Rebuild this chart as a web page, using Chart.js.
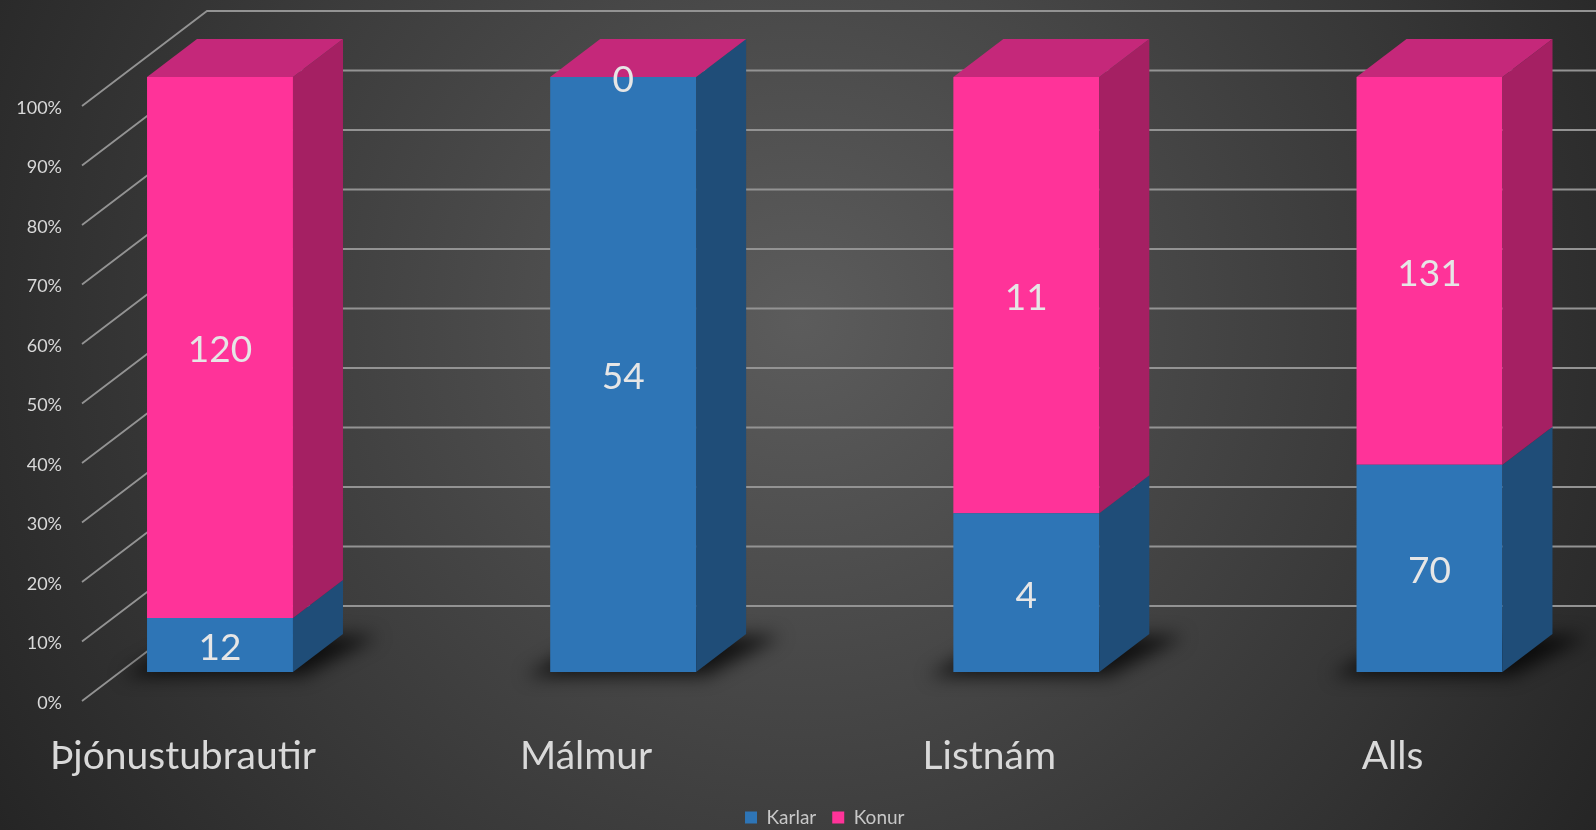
<!DOCTYPE html>
<html><head><meta charset="utf-8">
<script src="https://cdn.jsdelivr.net/npm/chart.js@4"></script>
<style>html,body{margin:0;padding:0;background:#333;overflow:hidden}#wrap{width:1596px;height:830px;position:relative}</style>
</head><body><div id="wrap"><canvas id="c"></canvas></div>
<script>
const categories = ['Þjónustubrautir', 'Málmur', 'Listnám', 'Alls'];
const karlar = [12, 54, 4, 70];
const konur = [120, 0, 11, 131];
const seriesNames = ['Karlar', 'Konur'];
const yTickValues = [0, 10, 20, 30, 40, 50, 60, 70, 80, 90, 100];

const rawSeries = [karlar, konur];
const totals = categories.map((_, i) => karlar[i] + konur[i]);
const pct = arr => arr.map((v, i) => v / totals[i] * 100);

const FRONT = ['#2E75B6', '#FF3399'];
const SIDE = ['#1F4D78', '#A52063'];
const TOP = ['#24578A', '#C5287A'];
const DX = 50, DY = 38;
const FONT = 'Lato, "Open Sans", sans-serif';

const bgPlugin = {
  id: 'bg',
  beforeDraw(chart) {
    const {ctx, width, height} = chart;
    const g = ctx.createRadialGradient(800, 320, 0, 800, 320, 1000);
    g.addColorStop(0, '#5c5c5c');
    g.addColorStop(1, '#222222');
    ctx.save(); ctx.fillStyle = g; ctx.fillRect(0, 0, width, height); ctx.restore();
  }
};

const gridPlugin = {
  id: 'grid3d',
  beforeDatasetsDraw(chart) {
    const {ctx, chartArea: a, scales: {y}} = chart;
    ctx.save();
    ctx.strokeStyle = '#939393'; ctx.lineWidth = 1.8;
    yTickValues.forEach(v => {
      const p = y.getPixelForValue(v);
      ctx.beginPath();
      ctx.moveTo(a.left - 138, p + 29);
      ctx.lineTo(a.left - 13, p - 66);
      ctx.lineTo(chart.width, p - 66);
      ctx.stroke();
    });
    // floor shadows
    const meta = chart.getDatasetMeta(0);
    meta.data.forEach(bar => {
      const {x, width, base} = bar.getProps(['x', 'width', 'base'], true);
      const xl = x - width / 2, xr = x + width / 2;
      ctx.save();
      ctx.filter = 'blur(9px)';
      ctx.fillStyle = 'rgba(0,0,0,0.75)';
      ctx.beginPath();
      ctx.moveTo(xl - 25, base + 4);
      ctx.lineTo(xr + 10, base + 4);
      ctx.lineTo(xr + DX + 35, base - DY + 2);
      ctx.lineTo(xl + DX, base - DY);
      ctx.closePath();
      ctx.fill();
      ctx.restore();
    });
    ctx.restore();
  },
  afterDatasetsDraw(chart) {
    const {ctx} = chart;
    ctx.save();
    const n = chart.data.datasets.length;
    chart.data.datasets.forEach((ds, di) => {
      chart.getDatasetMeta(di).data.forEach(bar => {
        const {x, y, width, base} = bar.getProps(['x', 'y', 'width', 'base'], true);
        const xl = x - width / 2, xr = x + width / 2;
        const top = Math.min(y, base), bot = Math.max(y, base);
        if (bot - top > 0) {
          ctx.fillStyle = SIDE[di];
          ctx.beginPath();
          ctx.moveTo(xr, bot); ctx.lineTo(xr + DX, bot - DY);
          ctx.lineTo(xr + DX, top - DY); ctx.lineTo(xr, top);
          ctx.closePath(); ctx.fill();
        }
        if (di === n - 1) {
          ctx.fillStyle = TOP[di];
          ctx.beginPath();
          ctx.moveTo(xl, top); ctx.lineTo(xr, top);
          ctx.lineTo(xr + DX, top - DY); ctx.lineTo(xl + DX, top - DY);
          ctx.closePath(); ctx.fill();
        }
      });
    });
    // data labels
    ctx.fillStyle = '#e6e6e6';
    ctx.font = '37px ' + FONT;
    ctx.textAlign = 'center'; ctx.textBaseline = 'middle';
    chart.data.datasets.forEach((ds, di) => {
      chart.getDatasetMeta(di).data.forEach((bar, i) => {
        const {x, y, base} = bar.getProps(['x', 'y', 'base'], true);
        ctx.fillText(String(rawSeries[di][i]), x, (y + base) / 2 + 3);
      });
    });
    ctx.restore();
  }
};

new Chart(document.getElementById('c'), {
  type: 'bar',
  data: {
    labels: categories,
    datasets: seriesNames.map((name, di) => ({
      label: name,
      data: pct(rawSeries[di]),
      backgroundColor: FRONT[di],
      borderWidth: 0,
      clip: false,
      barPercentage: 1,
      categoryPercentage: 0.362
    }))
  },
  options: {
    responsive: true,
    maintainAspectRatio: false,
    animation: false,
    layout: {padding: {left: 0, right: 166.5, top: 77, bottom: -7}},
    plugins: {
      tooltip: {enabled: false},
      legend: {
        position: 'bottom',
        fullSize: false,
        labels: {boxWidth: 12, boxHeight: 12, padding: 16, color: '#c8c8c8', font: {family: FONT, size: 19}}
      }
    },
    scales: {
      x: {
        stacked: true,
        offset: false,
        grid: {display: false},
        border: {display: false},
        ticks: {color: '#d9d9d9', font: {family: FONT, size: 39}, padding: 53, labelOffset: -37, maxRotation: 0},
        afterFit(s) { s.height = 120; s.paddingLeft = 0; s.paddingRight = 0; }
      },
      y: {
        stacked: true,
        min: 0, max: 100,
        grid: {display: false, drawTicks: false},
        border: {display: false},
        afterBuildTicks(s) { s.ticks = yTickValues.map(v => ({value: v})); },
        ticks: {color: '#d9d9d9', font: {family: FONT, size: 18}, padding: 158, labelOffset: 31, callback: v => v + '%'},
        afterFit(s) { s.width = 220; s.paddingTop = 0; s.paddingBottom = 0; }
      }
    }
  },
  plugins: [bgPlugin, gridPlugin]
});
</script></body></html>
